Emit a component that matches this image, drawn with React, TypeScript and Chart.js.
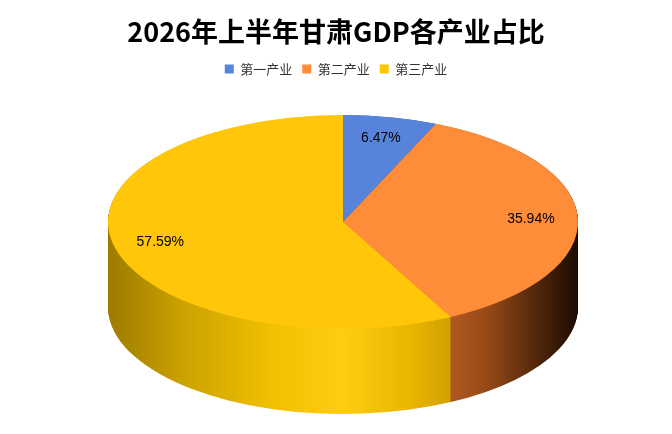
import React, { useEffect, useRef } from "react";
import { Chart, registerables } from "chart.js";
Chart.register(...registerables);

const categories = ["第一产业", "第二产业", "第三产业"];
const shares = [6.47, 35.94, 57.59];
const colors = ["#5784DA", "#FF8C38", "#FFC60A"];
const titleText = "2026年上半年甘肃GDP各产业占比";

const sideGradients: [number, string][][] = [
  [[0, "#2F4F90"], [1, "#1D3365"]],
  [[0, "#E07A30"], [0.62, "#D06F2C"], [0.8, "#9A4B18"], [1, "#1A0B00"]],
  [[0, "#9C7B00"], [0.15, "#C9A000"], [0.35, "#F2C000"], [0.5, "#FFCC12"], [0.65, "#E8B400"], [1, "#806000"]],
];

const CX = 343, CY = 222, RX = 235, RY = 107, DEPTH = 85;

const pie3d = {
  id: "pie3d",
  beforeDatasetsDraw(chart: any) {
    const meta = chart.getDatasetMeta(0);
    const el0 = meta.data[0];
    const cx = el0.x, cy = el0.y, r = el0.outerRadius;
    const ctx = chart.ctx;
    ctx.save();
    ctx.translate(CX, CY);
    ctx.scale(RX / r, RY / r);
    ctx.translate(-cx, -cy);
    const d = (DEPTH * r) / RY;
    const step = r / RY * 0.8;
    meta.data.forEach((el: any, i: number) => {
      const g = ctx.createLinearGradient(cx - r, 0, cx + r, 0);
      sideGradients[i].forEach(([o, c]) => g.addColorStop(o, c));
      el._grad = g;
    });
    for (let k = d; k > 0; k -= step) {
      meta.data.forEach((el: any) => {
        ctx.beginPath();
        ctx.moveTo(el.x, el.y + k);
        ctx.arc(el.x, el.y + k, el.outerRadius, el.startAngle, el.endAngle);
        ctx.closePath();
        ctx.fillStyle = el._grad;
        ctx.fill();
      });
    }
  },
  afterDatasetsDraw(chart: any) {
    chart.ctx.restore();
    const ctx = chart.ctx;
    const meta = chart.getDatasetMeta(0);
    ctx.save();
    ctx.font = "14px 'Liberation Sans', Arial, sans-serif";
    ctx.fillStyle = "#000";
    ctx.textAlign = "center";
    ctx.textBaseline = "middle";
    meta.data.forEach((el: any, i: number) => {
      const a = (el.startAngle + el.endAngle) / 2;
      const x = CX + Math.cos(a) * RX * 0.8;
      const y = CY + Math.sin(a) * RY * 0.8;
      ctx.fillText(shares[i].toFixed(2) + "%", x, y);
    });
    ctx.restore();
  },
};

export default function App() {
  const ref = useRef<HTMLCanvasElement>(null);
  useEffect(() => {
    document.body.style.margin = "0";
    const chart = new Chart(ref.current!, {
      type: "pie",
      data: {
        labels: categories,
        datasets: [{ data: shares, backgroundColor: colors, borderWidth: 0 }],
      },
      options: {
        animation: false,
        responsive: false,
        events: [],
        rotation: 0,
        plugins: {
          title: {
            display: true,
            text: titleText,
            color: "#000",
            font: { size: 27, weight: "bold", family: "'Noto Sans CJK SC', sans-serif" },
            padding: { top: 16, bottom: 4 },
          },
          legend: {
            display: true,
            position: "top",
            labels: {
              boxWidth: 9,
              boxHeight: 9,
              color: "#333",
              font: { size: 13, family: "'Noto Sans CJK SC', sans-serif" },
              padding: 10,
            },
          },
          tooltip: { enabled: false },
        },
      },
      plugins: [pie3d],
    } as any);
    return () => chart.destroy();
  }, []);
  return (
    <div style={{ width: 672, height: 434, background: "#fff" }}>
      <canvas ref={ref} width={672} height={434} />
    </div>
  );
}
